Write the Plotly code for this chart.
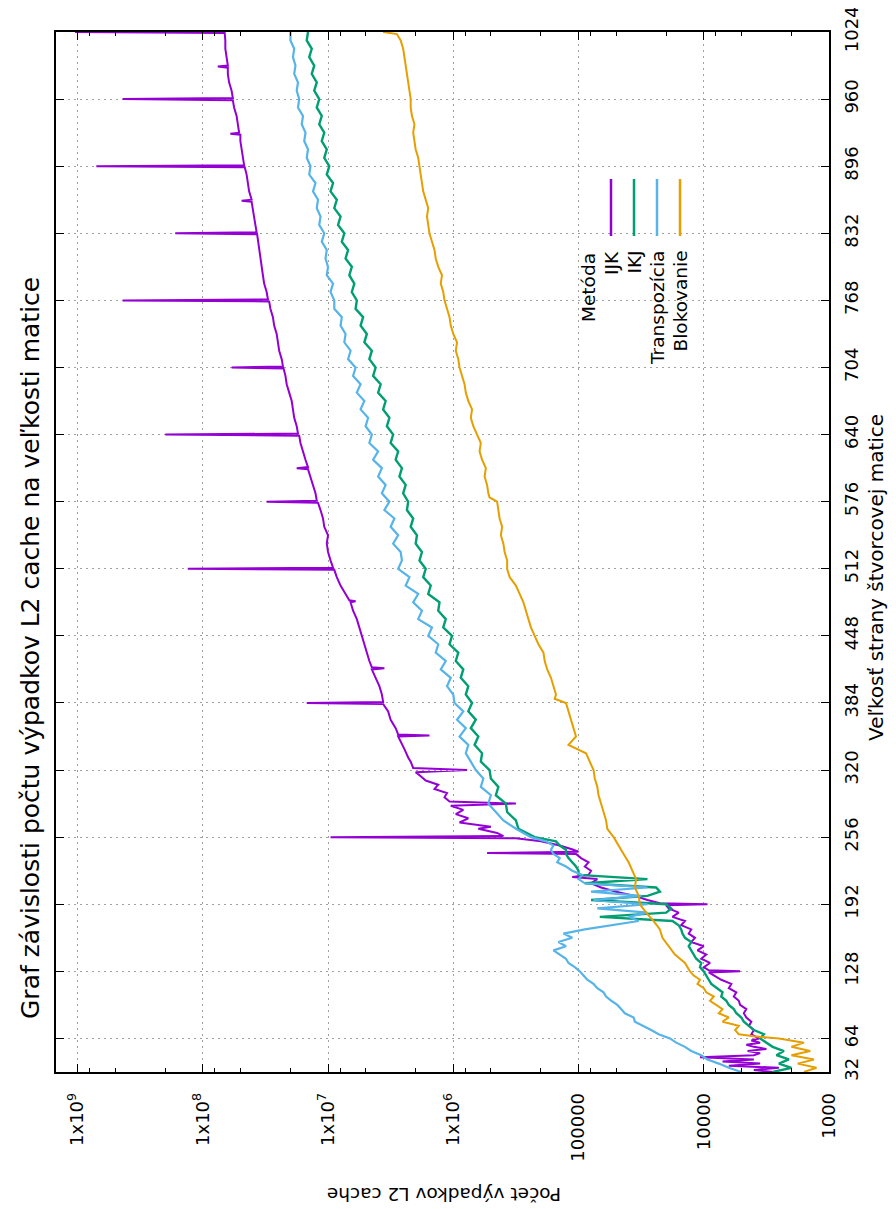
import plotly.graph_objects as go

# ---------------- data (values are log10 of the miss count) -------------
ijk_size = [32, 34, 36, 38, 40, 42, 44, 46, 48, 50, 52, 54, 56, 58, 60, 62, 64, 68, 72, 76, 80, 84, 88, 92, 96,
            100, 104, 108, 112, 116, 120, 124, 127, 128, 129, 132, 136, 140, 144, 148, 152, 156, 160, 164, 168,
            172, 176, 180, 184, 188, 191, 192, 193, 196, 200, 204, 208, 212, 216, 218, 220, 224, 228, 232, 236,
            240, 241, 242, 244, 248, 252, 255, 256, 257, 260, 264, 266, 270, 274, 278, 282, 286, 288, 290, 294,
            298, 302, 306, 310, 314, 318, 320, 322, 328, 332, 340, 348, 352, 353, 354, 360, 368, 376, 383, 384,
            385, 392, 400, 408, 416, 417, 418, 424, 432, 440, 448, 456, 464, 472, 480, 481, 482, 488, 496, 504,
            511, 512, 513, 520, 528, 536, 544, 552, 560, 568, 575, 576, 577, 584, 592, 600, 607, 608, 609, 616,
            624, 632, 639, 640, 641, 648, 656, 664, 672, 680, 688, 696, 703, 704, 705, 712, 720, 728, 736, 744,
            752, 760, 767, 768, 769, 776, 784, 792, 800, 808, 816, 824, 831, 832, 833, 840, 848, 856, 862, 863,
            864, 872, 880, 888, 895, 896, 897, 904, 912, 920, 926, 927, 928, 936, 944, 952, 959, 960, 961, 968,
            976, 984, 990, 991, 992, 1000, 1008, 1016, 1023, 1024]
ijk_log = [3.45, 3.6, 3.4, 3.8, 3.55, 3.85, 3.6, 4.03, 3.6, 3.55, 3.65, 3.5, 3.6, 3.66, 3.55, 3.62, 3.56, 3.62,
           3.6, 3.64, 3.62, 3.66, 3.68, 3.66, 3.71, 3.72, 3.76, 3.74, 3.8, 3.78, 3.86, 3.92, 3.96, 3.71, 3.96,
           4.0, 3.95, 4.02, 3.98, 4.05, 4.0, 4.1, 4.07, 4.12, 4.1, 4.18, 4.15, 4.25, 4.2, 4.28, 4.3, 3.97, 4.35,
           4.45, 4.55, 4.7, 4.82, 4.9, 4.85, 5.05, 4.92, 4.9, 4.95, 4.92, 4.98, 5.02, 5.73, 5.0, 5.04, 5.15, 5.3,
           5.5, 6.98, 5.6, 5.65, 5.8, 5.7, 5.95, 5.88, 5.98, 5.92, 6.02, 5.5, 6.03, 6.07, 6.05, 6.15, 6.12, 6.22,
           6.26, 6.3, 5.89, 6.32, 6.34, 6.36, 6.39, 6.42, 6.44, 6.19, 6.44, 6.46, 6.5, 6.52, 6.56, 7.17, 6.56,
           6.57, 6.59, 6.62, 6.65, 6.55, 6.65, 6.67, 6.69, 6.71, 6.73, 6.75, 6.77, 6.8, 6.82, 6.78, 6.83, 6.86,
           6.9, 6.93, 6.95, 8.12, 6.96, 6.98, 7.0, 7.01, 7.0, 7.03, 7.04, 7.06, 7.08, 7.49, 7.09, 7.1, 7.12, 7.14,
           7.16, 7.25, 7.16, 7.18, 7.2, 7.22, 7.23, 8.3, 7.24, 7.25, 7.27, 7.28, 7.29, 7.31, 7.33, 7.34, 7.355,
           7.77, 7.36, 7.37, 7.39, 7.4, 7.41, 7.43, 7.44, 7.46, 7.47, 8.64, 7.48, 7.49, 7.51, 7.52, 7.53, 7.54,
           7.55, 7.56, 7.566, 8.22, 7.57, 7.58, 7.59, 7.6, 7.61, 7.69, 7.61, 7.63, 7.64, 7.65, 7.665, 8.85, 7.67,
           7.68, 7.69, 7.7, 7.7, 7.78, 7.71, 7.72, 7.73, 7.75, 7.76, 8.64, 7.76, 7.77, 7.79, 7.8, 7.8, 7.88, 7.8,
           7.81, 7.82, 7.82, 7.825, 9.02]

ikj_size = [32, 36, 40, 44, 48, 52, 56, 60, 64, 68, 72, 76, 80, 84, 88, 92, 96, 100, 104, 108, 112, 116, 120,
            124, 128, 132, 136, 140, 144, 148, 152, 156, 160, 164, 168, 172, 176, 180, 184, 188, 192, 196, 200,
            204, 208, 212, 216, 220, 224, 228, 232, 236, 240, 244, 248, 252,
            256, 264, 272, 280, 288, 296, 304, 312, 320, 328, 336, 344, 352, 360, 368, 376, 384, 392, 400, 408,
            416, 424, 432, 440, 448, 456, 464, 472, 480, 488, 496, 504, 512, 520, 528, 536, 544, 552, 560, 568,
            576, 584, 592, 600, 608, 616, 624, 632, 640, 648, 656, 664, 672, 680, 688, 696, 704, 712, 720, 728,
            736, 744, 752, 760, 768, 776, 784, 792, 800, 808, 816, 824, 832, 840, 848, 856, 864, 872, 880, 888,
            896, 904, 912, 920, 928, 936, 944, 952, 960, 968, 976, 984, 992, 1000, 1008, 1016, 1024]
ikj_log = [3.45, 3.3, 3.4, 3.32, 3.42, 3.36, 3.45, 3.5, 3.55, 3.52, 3.6, 3.64, 3.68, 3.7, 3.74, 3.76, 3.8,
           3.82, 3.86, 3.85, 3.9, 3.94, 3.96, 3.98, 4.0, 4.03, 4.02, 4.06, 4.08, 4.1, 4.12, 4.1, 4.15, 4.17,
           4.18, 4.2, 4.25, 4.83, 4.3, 4.26, 4.3, 4.9, 4.45, 4.35, 4.38, 4.95, 4.45, 5.0, 5.0, 5.02, 5.05, 5.08,
           5.1, 5.1, 5.15, 5.18,
           5.35, 5.48, 5.5, 5.57, 5.58, 5.66, 5.64, 5.7, 5.71, 5.78, 5.77, 5.83, 5.8, 5.86, 5.82, 5.88, 5.85,
           5.9, 5.88, 5.94, 5.92, 5.98, 5.96, 6.03, 6.01, 6.08, 6.06, 6.12, 6.11, 6.2, 6.18, 6.24, 6.22, 6.27,
           6.25, 6.3, 6.29, 6.34, 6.32, 6.37, 6.36, 6.4, 6.38, 6.43, 6.41, 6.46, 6.44, 6.5, 6.48, 6.53, 6.51,
           6.56, 6.54, 6.6, 6.58, 6.64, 6.62, 6.67, 6.65, 6.71, 6.69, 6.74, 6.72, 6.78, 6.77, 6.81, 6.79, 6.83,
           6.81, 6.86, 6.84, 6.89, 6.87, 6.92, 6.9, 6.95, 6.93, 6.98, 6.96, 7.01, 6.99, 7.03, 7.01, 7.05, 7.03,
           7.07, 7.05, 7.09, 7.07, 7.11, 7.09, 7.13, 7.11, 7.15, 7.13, 7.17, 7.16]

tr_size = ikj_size
tr_log = [3.7, 3.8, 3.88, 3.97, 4.02, 4.1, 4.15, 4.22, 4.27, 4.36, 4.42, 4.48, 4.55, 4.56, 4.63, 4.66, 4.69,
          4.74, 4.78, 4.8, 4.85, 4.88, 4.93, 4.96, 4.99, 5.03, 5.08, 5.1, 5.15, 5.2, 5.1, 5.16, 5.05, 5.12, 4.95,
          4.75, 4.52, 4.6, 4.45, 4.85, 4.45, 4.88, 4.5, 4.9, 4.45, 4.95, 5.0, 4.97, 5.05, 5.1, 5.17, 5.15, 5.2,
          5.22, 5.2, 5.26,
          5.38, 5.5, 5.6, 5.66, 5.72, 5.7, 5.78, 5.76, 5.82, 5.86, 5.9, 5.88, 5.95, 5.9, 5.97, 5.92, 5.99, 6.0,
          6.05, 6.02, 6.1, 6.06, 6.14, 6.12, 6.2, 6.17, 6.28, 6.25, 6.32, 6.28, 6.38, 6.35, 6.44, 6.41, 6.42,
          6.48, 6.44, 6.5, 6.47, 6.55, 6.51, 6.57, 6.54, 6.6, 6.57, 6.64, 6.6, 6.67, 6.65, 6.7, 6.68, 6.74,
          6.71, 6.77, 6.74, 6.8, 6.78, 6.84, 6.82, 6.87, 6.86, 6.9, 6.89, 6.95, 6.95, 6.98, 6.96, 7.01, 7.0,
          7.02, 7.01, 7.05, 7.03, 7.07, 7.06, 7.09, 7.08, 7.12, 7.1, 7.15, 7.14, 7.17, 7.16, 7.19, 7.18, 7.21,
          7.2, 7.24, 7.23, 7.25, 7.24, 7.27, 7.26, 7.28, 7.27, 7.3, 7.3]

blk_size = [32, 36, 40, 44, 48, 52, 56, 60, 64, 66, 68, 72, 76, 80, 84, 88, 92, 96, 100, 104, 108, 112, 116,
            120, 124, 128, 136, 144, 152, 160, 168, 176, 184, 192, 200, 208, 216, 224, 232, 240, 248, 256, 264,
            272, 280, 288, 296, 304, 312, 320, 328, 336, 344, 352, 360, 368, 376, 384, 388, 392, 400, 408, 416,
            424, 432, 440, 448, 456, 464, 472, 480, 488, 496, 504, 512, 520, 528, 536, 544, 552, 560, 568, 576,
            580, 584, 592, 600, 608, 616, 624, 632, 640, 648, 656, 664, 672, 680, 688, 696, 704, 712, 720, 728,
            736, 744, 752, 760, 768, 776, 784, 792, 800, 808, 816, 824, 832, 840, 848, 856, 864, 872, 880, 888,
            896, 904, 912, 920, 928, 936, 944, 952, 960, 968, 976, 984, 992, 1000, 1008, 1016, 1022, 1024]
blk_log = [3.2, 3.1, 3.25, 3.12, 3.3, 3.15, 3.3, 3.2, 3.4, 3.6, 3.72, 3.75, 3.72, 3.85, 3.8, 3.88, 3.85, 3.9,
           3.95, 3.92, 3.98, 4.0, 4.05, 4.03, 4.08, 4.11, 4.15, 4.23, 4.28, 4.33, 4.35, 4.4, 4.46, 4.51, 4.52,
           4.55, 4.54, 4.57, 4.6, 4.64, 4.68, 4.72, 4.77, 4.78, 4.8, 4.82, 4.84, 4.85, 4.87, 4.88, 4.91, 4.94,
           5.08, 5.02, 5.04, 5.06, 5.08, 5.1, 5.19, 5.18, 5.2, 5.22, 5.25, 5.27, 5.28, 5.32, 5.35, 5.38, 5.4,
           5.42, 5.44, 5.47, 5.5, 5.55, 5.57, 5.57, 5.59, 5.6, 5.62, 5.61, 5.63, 5.64, 5.65, 5.71, 5.72, 5.73,
           5.75, 5.74, 5.77, 5.79, 5.78, 5.81, 5.84, 5.86, 5.85, 5.88, 5.9, 5.91, 5.93, 5.95, 5.96, 5.98, 5.97,
           6.0, 6.02, 6.03, 6.05, 6.07, 6.08, 6.1, 6.09, 6.12, 6.14, 6.15, 6.17, 6.19, 6.2, 6.21, 6.2, 6.22,
           6.24, 6.25, 6.26, 6.27, 6.28, 6.3, 6.31, 6.32, 6.31, 6.33, 6.34, 6.34, 6.35, 6.36, 6.37, 6.38, 6.39,
           6.4, 6.42, 6.45, 6.56]

series_names = ["IJK", "IKJ", "Transpozícia", "Blokovanie"]
series_colors = ["#9400d3", "#009e73", "#56b4e9", "#e69f00"]
size_ticks = [32, 64, 128, 192, 256, 320, 384, 448, 512, 576, 640, 704, 768, 832, 896, 960, 1024]
count_ticks = [1e3, 1e4, 1e5, 1e6, 1e7, 1e8, 1e9]
count_ticktext = ["1000", "10000", "100000", "1x10<sup>6</sup>", "1x10<sup>7</sup>",
                  "1x10<sup>8</sup>", "1x10<sup>9</sup>"]
minor_count_ticks = [m * 10 ** e for e in range(3, 9) for m in (2, 5, 8)]

title_text = "Graf závislosti počtu výpadkov L2 cache na veľkosti matice"
xlabel_text = "Veľkosť strany štvorcovej matice"
ylabel_text = "Počet výpadkov L2 cache"
legend_title = "Metóda"

# ---------------- figure ----------------
OFF = 8                      # the page body adds an 8 px margin; compensate for it
W, H = 896 - OFF, 1209 - OFF
L, R, T, B = 56 - OFF, 829 - OFF, 32 - OFF, 1072 - OFF   # plot box in figure pixels


def px(xp):   # reference-image pixel -> paper x
    return (xp - OFF - L) / (R - L)


def py(yp):   # reference-image pixel -> paper y
    return (B - (yp - OFF)) / (B - T)


FONT = "DejaVu Sans"
GRID = "#a0a0a0"
fig = go.Figure()
all_sizes = [ijk_size, ikj_size, tr_size, blk_size]
all_logs = [ijk_log, ikj_log, tr_log, blk_log]
widths = [2, 2.4, 2.2, 2]
for name, col, s, lg, w in zip(series_names, series_colors, all_sizes, all_logs, widths):
    fig.add_trace(go.Scatter(
        x=[10 ** v for v in lg], y=s, mode="lines", name=name,
        line=dict(color=col, width=w), showlegend=False))

fig.update_layout(
    width=W, height=H,
    margin=dict(l=L, r=W - R, t=T, b=H - B, autoexpand=False),
    paper_bgcolor="white", plot_bgcolor="white",
    font=dict(family=FONT, size=18, color="black"),
    xaxis=dict(
        type="log", range=[9.172, 3], tickvals=count_ticks, ticktext=count_ticktext,
        tickangle=-90, ticks="inside", ticklen=8, tickwidth=1, tickcolor="black",
        showline=True, linecolor="black", linewidth=1.5, mirror="ticks",
        showgrid=True, gridcolor=GRID, griddash="2px,4px", gridwidth=1,
        zeroline=False, automargin=False, ticklabelstandoff=12, ticklabeloverflow="allow",
        tickfont=dict(family=FONT, size=18),
        minor=dict(tickvals=minor_count_ticks, ticks="inside", ticklen=4, tickcolor="black",
                   showgrid=False),
    ),
    yaxis=dict(
        range=[32, 1024], tickvals=size_ticks, ticktext=[str(v) for v in size_ticks],
        side="right", tickangle=-90, ticks="inside", ticklen=8, tickwidth=1, tickcolor="black",
        showline=True, linecolor="black", linewidth=1.5, mirror="ticks",
        showgrid=True, gridcolor=GRID, griddash="2px,4px", gridwidth=1,
        zeroline=False, automargin=False, ticklabelstandoff=6, ticklabeloverflow="allow",
        tickfont=dict(family=FONT, size=18),
    ),
)

ann = []
ann.append(dict(text=title_text, x=px(30), y=py(648), xref="paper", yref="paper", showarrow=False,
                textangle=-90, xanchor="center", yanchor="middle", font=dict(size=25)))
ann.append(dict(text=xlabel_text, x=px(876), y=py(577), xref="paper", yref="paper", showarrow=False,
                textangle=-90, xanchor="center", yanchor="middle", font=dict(size=20)))
ann.append(dict(text=ylabel_text, x=px(444), y=py(1195), xref="paper", yref="paper", showarrow=False,
                textangle=180, xanchor="center", yanchor="middle", font=dict(size=18.5)))
# legend (drawn rotated like the rest of the chart)
ann.append(dict(text=legend_title, x=px(588), y=py(288), xref="paper", yref="paper", showarrow=False,
                textangle=-90, xanchor="center", yanchor="middle", font=dict(size=18.5)))
leg_x = [611, 634, 657, 680]
shapes = []
for name, col, lx in zip(series_names, series_colors, leg_x):
    ann.append(dict(text=name, x=px(lx), y=py(249), xref="paper", yref="paper", showarrow=False,
                    textangle=-90, xanchor="center", yanchor="top", font=dict(size=18.5)))
    shapes.append(dict(type="line", xref="paper", yref="paper", x0=px(lx), x1=px(lx),
                       y0=py(179), y1=py(236), line=dict(color=col, width=2.5)))
fig.update_layout(annotations=ann, shapes=shapes)

fig.write_html("out.html")
